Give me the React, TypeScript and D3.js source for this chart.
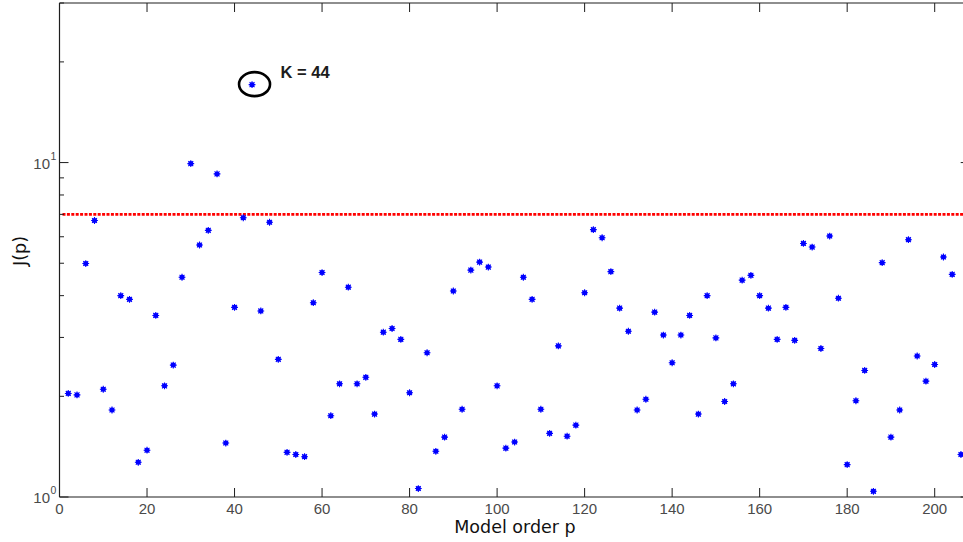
import React from "react";
import * as d3 from "d3";

// Model order p (even orders) and criterion J(p)
const orders: number[] = [
  2, 4, 6, 8, 10, 12, 14, 16, 18, 20, 22, 24, 26, 28, 30, 32, 34, 36, 38, 40,
  42, 44, 46, 48, 50, 52, 54, 56, 58, 60, 62, 64, 66, 68, 70, 72, 74, 76, 78, 80,
  82, 84, 86, 88, 90, 92, 94, 96, 98, 100, 102, 104, 106, 108, 110, 112, 114, 116, 118, 120,
  122, 124, 126, 128, 130, 132, 134, 136, 138, 140, 142, 144, 146, 148, 150, 152, 154, 156, 158, 160,
  162, 164, 166, 168, 170, 172, 174, 176, 178, 180, 182, 184, 186, 188, 190, 192, 194, 196, 198, 200,
  202, 204, 206,
];
const jValues: number[] = [
  2.04, 2.02, 4.99, 6.71, 2.1, 1.82, 4.0, 3.9, 1.27, 1.38, 3.49, 2.15, 2.48, 4.54, 9.93, 5.67, 6.27, 9.25, 1.45, 3.69,
  6.84, 17.1, 3.6, 6.63, 2.58, 1.36, 1.34, 1.32, 3.81, 4.69, 1.75, 2.18, 4.24, 2.18, 2.28, 1.77, 3.11, 3.19, 2.96, 2.05,
  1.06, 2.7, 1.37, 1.51, 4.13, 1.83, 4.77, 5.04, 4.87, 2.15, 1.4, 1.46, 4.54, 3.9, 1.83, 1.55, 2.83, 1.52, 1.64, 4.08,
  6.3, 5.96, 4.72, 3.67, 3.13, 1.82, 1.96, 3.57, 3.05, 2.52, 3.05, 3.49, 1.77, 4.0, 2.99, 1.93, 2.18, 4.45, 4.6, 4.0,
  3.67, 2.96, 3.69, 2.94, 5.73, 5.59, 2.78, 6.03, 3.93, 1.25, 1.94, 2.39, 1.04, 5.02, 1.51, 1.82, 5.88, 2.64, 2.22, 2.49,
  5.22, 4.63, 1.34,
];
const threshold = 7;
const selectedOrder = 44;
const xTicks: number[] = [0, 20, 40, 60, 80, 100, 120, 140, 160, 180, 200];
const yMajor: number[] = [1, 10];
const yMinor: number[] = [2, 3, 4, 5, 6, 7, 8, 9, 20, 30];
const xDomain: [number, number] = [0, 208];
const yDomain: [number, number] = [1, 30];

const W = 963;
const H = 542;
const left = 59.5;
const right = 969.7;
const top = 3;
const bottom = 497;

export default function App() {
  const x = d3.scaleLinear().domain(xDomain).range([left, right]);
  const y = d3.scaleLog().domain(yDomain).range([bottom, top]);

  const axisColor = "#1e1e1e";
  const labelColor = "#4a4a4a";
  const majorLen = 9;
  const minorLen = 4.5;

  const selIdx = orders.indexOf(selectedOrder);
  const selX = x(orders[selIdx]);
  const selY = y(jValues[selIdx]);

  const asterisk = (cx: number, cy: number, key: number) => {
    const r = 3.4;
    const d = r * 0.72;
    return (
      <g key={key}>
        <circle cx={cx} cy={cy} r={2.5} fill="#0000ff" />
        <path
          d={`M${cx - r},${cy}L${cx + r},${cy}M${cx},${cy - r}L${cx},${cy + r}M${cx - d},${cy - d}L${cx + d},${cy + d}M${cx - d},${cy + d}L${cx + d},${cy - d}`}
          stroke="#0000ff"
          strokeWidth={1.1}
        />
      </g>
    );
  };

  return (
    <svg
      width={W}
      height={H}
      style={{ position: "absolute", left: 0, top: 0, background: "#fff" }}
      fontFamily="'Liberation Sans', Arial, sans-serif"
    >
      <rect x={0} y={0} width={W} height={H} fill="#fff" />

      {/* threshold line */}
      <line
        x1={x(0) + 3}
        x2={W}
        y1={y(threshold)}
        y2={y(threshold)}
        stroke="#ff0000"
        strokeWidth={2.6}
        strokeDasharray="3 1.4"
      />

      {/* axes box */}
      <g stroke={axisColor} strokeWidth={1.2} fill="none">
        <line x1={left} x2={left} y1={top} y2={bottom} />
        <line x1={left} x2={right} y1={bottom} y2={bottom} />
        <line x1={left} x2={right} y1={top} y2={top} />
        <line x1={right} x2={right} y1={top} y2={bottom} />
      </g>

      {/* x ticks, bottom and top */}
      <g stroke={axisColor} strokeWidth={1}>
        {xTicks.map((t) => (
          <g key={t}>
            <line x1={x(t)} x2={x(t)} y1={bottom} y2={bottom - majorLen} />
            <line x1={x(t)} x2={x(t)} y1={top} y2={top + majorLen} />
          </g>
        ))}
      </g>
      <g fill={labelColor} fontSize={15} textAnchor="middle">
        {xTicks.map((t) => (
          <text key={t} x={x(t)} y={513.5}>
            {t}
          </text>
        ))}
      </g>

      {/* y ticks, left and right */}
      <g stroke={axisColor} strokeWidth={1}>
        {yMajor.map((t) => (
          <g key={`M${t}`}>
            <line x1={left} x2={left + majorLen} y1={y(t)} y2={y(t)} />
            <line x1={right} x2={right - majorLen} y1={y(t)} y2={y(t)} />
          </g>
        ))}
        {yMinor.map((t) => (
          <g key={`m${t}`}>
            <line x1={left} x2={left + minorLen} y1={y(t)} y2={y(t)} />
            <line x1={right} x2={right - minorLen} y1={y(t)} y2={y(t)} />
          </g>
        ))}
      </g>
      <g fill={labelColor}>
        {yMajor.map((t) => {
          const exp = Math.round(Math.log10(t));
          return (
            <g key={t}>
              <text x={50} y={y(t) + 6} fontSize={15} textAnchor="end">
                10
              </text>
              <text x={50.5} y={y(t) - 3} fontSize={10.5} textAnchor="start">
                {exp}
              </text>
            </g>
          );
        })}
      </g>

      {/* data */}
      <g>{orders.map((p, i) => asterisk(x(p), y(jValues[i]), i))}</g>

      {/* highlighted order */}
      <ellipse
        cx={selX + 2.5}
        cy={selY - 0.5}
        rx={15.5}
        ry={12}
        fill="none"
        stroke="#000"
        strokeWidth={2.6}
      />
      <text
        x={280.5}
        y={77.8}
        fontSize={16.5}
        fontWeight="bold"
        fill="#1c1c1c"
      >
        {`K = ${selectedOrder}`}
      </text>

      {/* axis titles */}
      <text
        x={515}
        y={532.5}
        fontSize={17.5}
        textAnchor="middle"
        fill="#111"
        fontFamily="'DejaVu Sans', sans-serif"
      >
        Model order p
      </text>
      <text
        transform="translate(26,251) rotate(-90)"
        fontSize={17.5}
        textAnchor="middle"
        fill="#111"
        fontFamily="'DejaVu Sans', sans-serif"
      >
        J(p)
      </text>
    </svg>
  );
}
